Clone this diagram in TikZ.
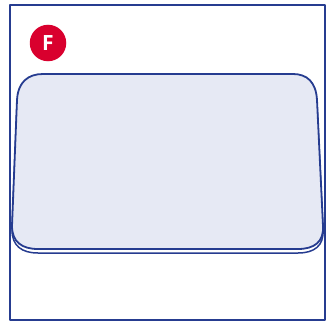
\documentclass[tikz,border=0pt]{standalone}
\usepackage{fontspec}
\setsansfont{Open Sans}
\definecolor{frameblue}{HTML}{263C90}
\definecolor{slabfill}{HTML}{E6E9F4}
\definecolor{badgered}{HTML}{D9002E}
\begin{document}
\begin{tikzpicture}[x=1pt,y=-1pt,
  outline/.style={draw=frameblue,line width=1.8pt,line join=round},
  badge/.style={circle,fill=badgered,minimum size=36.5pt,inner sep=0pt,text=white,font=\sffamily\bfseries\fontsize{21}{21}\selectfont}]
\useasboundingbox (0,0) rectangle (331,321);
% outer frame
\draw[outline,line width=2pt] (10,5) rectangle (325,320);
% badge
\node[badge] (f) at (48,43) {F};
% slab underside (shifted copy)
\draw[outline,fill=white,line width=1.5pt]
  (43,78) -- (293,78)
  .. controls (307,78) and (316,86) .. (317,104)
  -- (323,230)
  .. controls (324,246) and (314,253) .. (298,253)
  -- (38,253)
  .. controls (22,253) and (12,246) .. (12,230)
  -- (17,104)
  .. controls (18,86) and (28,78) .. (43,78) -- cycle;
% slab top
\draw[outline,fill=slabfill]
  (43,74) -- (293,74)
  .. controls (307,74) and (316,82) .. (317,100)
  -- (323,226)
  .. controls (324,242) and (314,249) .. (298,249)
  -- (38,249)
  .. controls (22,249) and (12,242) .. (12,226)
  -- (17,100)
  .. controls (18,82) and (28,74) .. (43,74) -- cycle;
\end{tikzpicture}
\end{document}
